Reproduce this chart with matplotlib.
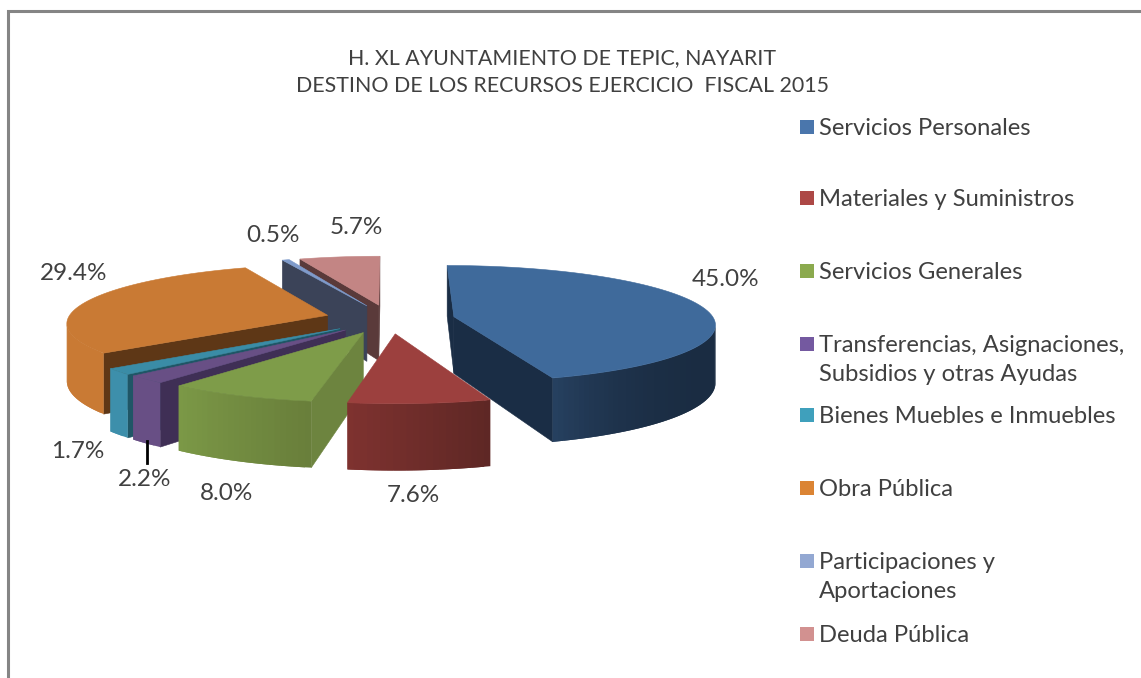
'''
3D exploded pie, destino de los recursos 2015
axes are in pixels so the text lands where it does in the picture
'''
import matplotlib
matplotlib.use("Agg")
import matplotlib.pyplot as plt
import matplotlib.colors as mcolors
from matplotlib.patches import Polygon, Rectangle
import numpy as np

title = "H. XL AYUNTAMIENTO DE TEPIC, NAYARIT\nDESTINO DE LOS RECURSOS EJERCICIO  FISCAL 2015"
categories = ["Servicios Personales", "Materiales y Suministros", "Servicios Generales",
              "Transferencias, Asignaciones,\nSubsidios y otras Ayudas",
              "Bienes Muebles e Inmuebles", "Obra Pública",
              "Participaciones y\nAportaciones", "Deuda Pública"]
values = [45.0, 7.6, 8.0, 2.2, 1.7, 29.4, 0.5, 5.7]

# colours: top face, side near the start angle, side near the end angle, cut faces
top_colors = ["#3F6A9B", "#9C403E", "#7E9C49", "#684F85", "#3A8CA6", "#C97A34", "#7F9BCB", "#C38584"]
side_start = ["#1A2C42", "#5E2725", "#697F3B", "#684F85", "#3D8FAB", "#C97A34", "#7F9BCB", "#C38584"]
side_end = ["#26405F", "#7E322F", "#7B9846", "#684F85", "#3D8FAB", "#C97A34", "#7F9BCB", "#C38584"]
side_power = [4, 1, 1, 1, 1, 1, 1, 1]
cut_colors = ["#1A2D45", "#5E2725", "#6D843F", "#3F2F55", "#1F5666", "#5E3716", "#3B4358", "#5A3A3A"]
legend_colors = ["#4A76AC", "#AD4846", "#8BAA4E", "#7459A0", "#3FA0BC", "#DB8434", "#93A8D2", "#D29190"]

# pixel layout
legend_y = [127, 198, 271, 344, 415, 488, 561, 634]
label_xy = [(726, 280), (413, 495), (227, 494), (145, 480), (78, 452), (74, 273), (273, 235), (356, 227)]

# perspective of the pie
xc, yc, yv = 390.0, 319.0, -170.0
dist = 2200.0
radius = 260.0
explode = 65.0
height = 57.0
text_color = "#404040"
plt.rcParams['font.family'] = ['Lato', 'DejaVu Sans']


def project(X, Y, z=0.0):
    s = 1.0/(1.0+Y/dist)
    return xc+X*s, yv+(yc+z-yv)*s


def facing(nx, ny, X, Y):
    # is the face turned to the camera, which sits at (0,-dist)
    return nx*(0-X)+ny*(-dist-Y) > 0


fig = plt.figure(figsize=(11.41, 6.78), dpi=100)
ax = fig.add_axes([0, 0, 1, 1])
ax.set_xlim(0, 1141)
ax.set_ylim(678, 0)
ax.axis('off')

ax.plot([8, 8, 1141], [678, 11, 11], color="#858585", lw=2.2, solid_joinstyle='miter')

total = sum(values)
edges = np.concatenate(([0], np.cumsum(values)))/total*2*np.pi

order = []
for i in range(len(values)):
    mid = (edges[i]+edges[i+1])/2
    order.append((-np.cos(mid), i))
order.sort()

for _, i in order:
    a0, a1 = edges[i], edges[i+1]
    mid = (a0+a1)/2
    ox, oy = explode*np.sin(mid), explode*np.cos(mid)

    # the two cut faces
    for ang, sign in ((a0, -1), (a1, 1)):
        ex, ey = ox+radius*np.sin(ang), oy+radius*np.cos(ang)
        nx, ny = sign*np.cos(ang), -sign*np.sin(ang)
        if facing(nx, ny, (ox+ex)/2, (oy+ey)/2):
            pts = [project(ox, oy), project(ex, ey), project(ex, ey, height), project(ox, oy, height)]
            ax.add_patch(Polygon(pts, closed=True, facecolor=cut_colors[i], edgecolor=cut_colors[i], lw=0.4))

    # outer wall, overlapping quads for the shading, only the visible part
    angs = np.linspace(a0, a1, max(int((a1-a0)/0.02), 4))
    visible = []
    for am in angs:
        if facing(np.sin(am), np.cos(am), ox+radius*np.sin(am), oy+radius*np.cos(am)):
            visible.append(am)
    c0, c1 = np.array(mcolors.to_rgb(side_start[i])), np.array(mcolors.to_rgb(side_end[i]))
    for j in range(len(visible)-1):
        t = (j/max(len(visible)-2, 1))**side_power[i]
        col = c0*(1-t)+c1*t
        k = min(j+2, len(visible)-1)
        p0 = (ox+radius*np.sin(visible[j]), oy+radius*np.cos(visible[j]))
        p1 = (ox+radius*np.sin(visible[k]), oy+radius*np.cos(visible[k]))
        pts = [project(*p0), project(*p1), project(*p1, height), project(*p0, height)]
        ax.add_patch(Polygon(pts, closed=True, facecolor=col, edgecolor='none'))

    # top face
    pts = [project(ox, oy)]
    for ang in np.linspace(a0, a1, 80):
        pts.append(project(ox+radius*np.sin(ang), oy+radius*np.cos(ang)))
    ax.add_patch(Polygon(pts, closed=True, facecolor=top_colors[i], edgecolor=top_colors[i], lw=0.4))

# leader line of the 2.2% label
ax.plot([147, 147], [441, 463], color="k", lw=2)

for v, (x, y) in zip(values, label_xy):
    ax.text(x, y, "%.1f%%" % v, ha='center', va='center', fontsize=17.5, color=text_color)

ax.text(562, 72, title, ha='center', va='center', fontsize=15.4, color=text_color, linespacing=1.55)

for name, y, col in zip(categories, legend_y, legend_colors):
    ax.add_patch(Rectangle((800, y-7), 14, 14, facecolor=col, edgecolor='none'))
    ax.text(819, y-9, name, ha='left', va='top', fontsize=17.1, color=text_color, linespacing=1.46)

plt.savefig("out.png", dpi=100)
